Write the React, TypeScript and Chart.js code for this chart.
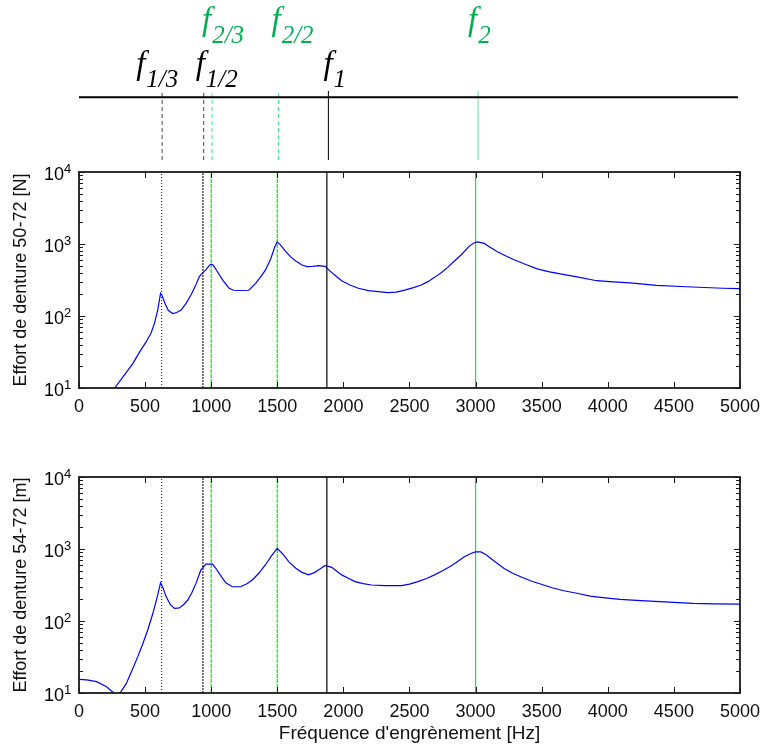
import React, { useEffect, useRef } from "react";
import { Chart, registerables } from "chart.js";
Chart.register(...registerables);

// ---------- data ----------
const freqTop = [255, 270, 330, 408, 460, 509, 545, 571, 595, 617, 630, 650, 675, 709, 740, 772, 810, 847, 880, 910, 937, 960, 980, 997, 1015, 1047, 1090, 1135, 1170, 1210, 1285, 1336, 1380, 1411, 1450, 1480, 1499, 1520, 1560, 1599, 1640, 1687, 1724, 1770, 1812, 1862, 1900, 1950, 1987, 2050, 2113, 2190, 2263, 2338, 2400, 2464, 2530, 2589, 2640, 2689, 2740, 2789, 2840, 2890, 2953, 2990, 3015, 3065, 3110, 3165, 3230, 3291, 3380, 3466, 3560, 3641, 3767, 3917, 4040, 4168, 4368, 4594, 4870, 5000];
const valTop = [9.3, 10, 14, 22, 32, 44, 58, 79, 120, 206, 190, 150, 120, 108, 112, 121, 150, 196, 260, 352, 400, 437, 490, 525, 510, 412, 310, 243, 228, 226, 228, 284, 360, 437, 620, 900, 1070, 990, 800, 667, 580, 511, 484, 490, 500, 490, 420, 350, 309, 270, 243, 225, 218, 211, 215, 229, 248, 269, 300, 344, 400, 474, 580, 703, 935, 1040, 1070, 1020, 900, 781, 680, 603, 520, 452, 410, 385, 350, 309, 298, 288, 267, 255, 243, 240];

const freqBottom = [0, 60, 133, 208, 250, 285, 308, 358, 408, 445, 484, 520, 559, 590, 617, 635, 659, 690, 722, 759, 790, 822, 855, 885, 922, 960, 1010, 1035, 1060, 1110, 1160, 1223, 1270, 1311, 1360, 1411, 1460, 1499, 1540, 1586, 1640, 1687, 1737, 1780, 1812, 1862, 1912, 1950, 1987, 2040, 2088, 2150, 2213, 2313, 2439, 2500, 2564, 2630, 2689, 2750, 2814, 2870, 2915, 2960, 2998, 3040, 3080, 3115, 3165, 3216, 3280, 3341, 3420, 3491, 3580, 3667, 3767, 3867, 3980, 4093, 4250, 4393, 4644, 4800, 5000];
const valBottom = [15.5, 15.2, 14.4, 12.2, 10.5, 9.6, 9.8, 13.6, 22, 32, 49, 75, 128, 210, 340, 290, 218, 170, 150, 152, 168, 194, 250, 333, 512, 617, 615, 540, 458, 340, 299, 299, 330, 371, 460, 605, 820, 1020, 860, 667, 540, 474, 437, 470, 512, 590, 557, 490, 437, 390, 352, 330, 316, 309, 310, 325, 352, 390, 437, 500, 580, 680, 780, 860, 912, 912, 830, 740, 630, 535, 460, 412, 360, 326, 290, 263, 243, 222, 210, 200, 192, 186, 176, 173, 172];

const xTickValues = [0, 500, 1000, 1500, 2000, 2500, 3000, 3500, 4000, 4500, 5000];
const yTickExponents = [1, 2, 3, 4];
const yMinorMantissas = [1, 2, 3, 4, 5, 6, 7, 8, 9];

const markerFreqs = [625, 937.5, 1875, 1000, 1500, 3000];
const markerSubscripts = ["1/3", "1/2", "1", "2/3", "2/2", "2"];
const baselineFromHz = 0;
const baselineToHz = 4955;

const yTitleTop = "Effort de denture 50-72 [N]";
const yTitleBottom = "Effort de denture 54-72 [m]";
const xTitle = "Fréquence d'engrènement [Hz]";

// ---------- styles ----------
const SANS = '"Liberation Sans", Arial, sans-serif';
const SERIF = '"Liberation Serif", "Times New Roman", serif';
const LABEL_GREEN = "#00b050";

const markerStyles = [
  { chartColor: "#333333", chartDash: [1, 2], topColor: "#444444", topDash: [4, 3], row: 1, labelColor: "#000000", dx: -26 },
  { chartColor: "#222222", chartDash: [2, 1], topColor: "#444444", topDash: [4, 3], row: 1, labelColor: "#000000", dx: -8 },
  { chartColor: "#000000", chartDash: [], topColor: "#000000", topDash: [], row: 1, labelColor: "#000000", dx: -5 },
  { chartColor: "#00f000", chartDash: [4, 1], topColor: "#33ee88", topDash: [4, 3], row: 0, labelColor: LABEL_GREEN, dx: -10 },
  { chartColor: "#00f000", chartDash: [4, 1], topColor: "#33ee88", topDash: [4, 3], row: 0, labelColor: LABEL_GREEN, dx: -7 },
  { chartColor: "#00f020", chartDash: [], topColor: "#55ee99", topDash: [], row: 0, labelColor: LABEL_GREEN, dx: -10 },
];
const rowBaselines = [30, 74];

const pts = (xs: number[], ys: number[]) => xs.map((x, i) => ({ x, y: ys[i] }));

const framePlugin = {
  id: "frame",
  afterDraw(chart: any) {
    const { ctx, chartArea: a, scales } = chart;
    const xs = scales.x;
    const ys = scales.y;
    ctx.save();
    ctx.strokeStyle = "#1a1a1a";
    ctx.lineWidth = 1;
    ctx.beginPath();
    xTickValues.forEach((v) => {
      const px = Math.round(xs.getPixelForValue(v)) + 0.5;
      ctx.moveTo(px, a.bottom);
      ctx.lineTo(px, a.bottom - 6);
      ctx.moveTo(px, a.top);
      ctx.lineTo(px, a.top + 6);
    });
    yTickExponents.forEach((k) => {
      yMinorMantissas.forEach((m) => {
        if (k === yTickExponents[yTickExponents.length - 1] && m > 1) return;
        const py = Math.round(ys.getPixelForValue(m * Math.pow(10, k))) + 0.5;
        const len = m === 1 ? 6 : 4;
        ctx.moveTo(a.left, py);
        ctx.lineTo(a.left + len, py);
        ctx.moveTo(a.right, py);
        ctx.lineTo(a.right - len, py);
      });
    });
    ctx.stroke();
    ctx.lineWidth = 1.8;
    ctx.strokeRect(a.left, a.top, a.right - a.left, a.bottom - a.top);
    ctx.fillStyle = "#000";
    yTickExponents.forEach((k) => {
      const py = ys.getPixelForValue(Math.pow(10, k));
      ctx.font = `18px ${SANS}`;
      ctx.textAlign = "right";
      ctx.textBaseline = "alphabetic";
      ctx.fillText("10", a.left - 15, py + 7.5);
      ctx.font = `13px ${SANS}`;
      ctx.textAlign = "left";
      ctx.fillText(String(k), a.left - 15, py + 1);
    });
    ctx.restore();
  },
};

const labelPlugin = {
  id: "freqLabels",
  afterDraw(chart: any) {
    const { ctx, scales } = chart;
    ctx.save();
    ctx.textBaseline = "alphabetic";
    ctx.textAlign = "left";
    markerFreqs.forEach((f, i) => {
      const st = markerStyles[i];
      const x0 = scales.x.getPixelForValue(f) + st.dx;
      const yb = rowBaselines[st.row];
      ctx.fillStyle = st.labelColor;
      ctx.font = `italic 33px ${SERIF}`;
      ctx.fillText("f", x0, yb);
      const w = ctx.measureText("f").width;
      ctx.font = `italic 25px ${SERIF}`;
      ctx.fillText(markerSubscripts[i], x0 + w + 1, yb + 13);
    });
    ctx.restore();
  },
};

function markerDatasets(kind: "chart" | "top", yMin: number, yMax: number) {
  return markerFreqs.map((f, i) => {
    const st = markerStyles[i];
    return {
      data: [
        { x: f, y: yMin },
        { x: f, y: yMax },
      ],
      borderColor: kind === "chart" ? st.chartColor : st.topColor,
      borderDash: kind === "chart" ? st.chartDash : st.topDash,
      borderWidth: kind === "chart" ? 1.2 : 1,
      pointRadius: 0,
      order: 2,
      clip: false as any,
    };
  });
}

function plotConfig(xs: number[], ys: number[], yTitle: string, withXTitle: boolean, axisHeight: number): any {
  return {
    type: "line",
    data: {
      datasets: [
        {
          data: pts(xs, ys),
          borderColor: "#0000ff",
          borderWidth: 1.2,
          pointRadius: 0,
          tension: 0,
          order: 0,
        },
        ...markerDatasets("chart", 10, 10000).map((d) => ({ ...d, clip: 0 })),
      ],
    },
    options: {
      animation: false,
      responsive: false,
      events: [],
      layout: { padding: { left: 0, right: 24, top: 22, bottom: 0 } },
      plugins: { legend: { display: false }, tooltip: { enabled: false } },
      scales: {
        x: {
          type: "linear",
          min: 0,
          max: 5000,
          ticks: {
            stepSize: 500,
            autoSkip: false,
            maxRotation: 0,
            padding: 8,
            color: "#111",
            font: { family: SANS, size: 18 },
            callback: (v: any) => String(v),
          },
          grid: { display: false, drawTicks: false },
          border: { display: false },
          title: {
            display: withXTitle,
            text: xTitle,
            color: "#111",
            font: { family: SANS, size: 19 },
            padding: { top: 0, bottom: 3.6 },
          },
          afterFit: (s: any) => {
            s.height = axisHeight;
          },
        },
        y: {
          type: "logarithmic",
          min: 10,
          max: 10000,
          ticks: { display: false },
          grid: { display: false, drawTicks: false },
          border: { display: false },
          title: {
            display: true,
            text: yTitle,
            color: "#111",
            font: { family: SANS, size: 18 },
            padding: { top: 10.7, bottom: 0 },
          },
          afterFit: (s: any) => {
            s.width = 79;
          },
        },
      },
    },
    plugins: [framePlugin],
  };
}

function topConfig(): any {
  return {
    type: "line",
    data: {
      datasets: [
        {
          data: [
            { x: baselineFromHz, y: 1 },
            { x: baselineToHz, y: 1 },
          ],
          borderColor: "#000",
          borderWidth: 2.2,
          pointRadius: 0,
          order: 0,
          clip: false,
        },
        ...markerDatasets("top", 0, 1.1),
      ],
    },
    options: {
      animation: false,
      responsive: false,
      events: [],
      layout: { padding: { left: 79, right: 24, top: 91, bottom: 10 } },
      plugins: { legend: { display: false }, tooltip: { enabled: false } },
      scales: {
        x: { type: "linear", min: 0, max: 5000, display: false },
        y: { type: "linear", min: 0, max: 1.1, display: false },
      },
    },
    plugins: [labelPlugin],
  };
}

function ChartCanvas({ config, top, height }: { config: () => any; top: number; height: number }) {
  const ref = useRef<HTMLCanvasElement | null>(null);
  useEffect(() => {
    if (!ref.current) return;
    const chart = new Chart(ref.current, config());
    return () => chart.destroy();
  }, []);
  return (
    <canvas
      ref={ref}
      width={768}
      height={height}
      style={{ position: "absolute", left: 0, top, width: 768, height, display: "block" }}
    />
  );
}

export default function App() {
  return (
    <div style={{ position: "absolute", left: 0, top: 0, width: 768, height: 749, background: "#fff", overflow: "hidden" }}>
      <ChartCanvas config={topConfig} top={0} height={170} />
      <ChartCanvas config={() => plotConfig(freqTop, valTop, yTitleTop, false, 52)} top={150} height={290} />
      <ChartCanvas config={() => plotConfig(freqBottom, valBottom, yTitleBottom, true, 56)} top={455} height={294} />
    </div>
  );
}
